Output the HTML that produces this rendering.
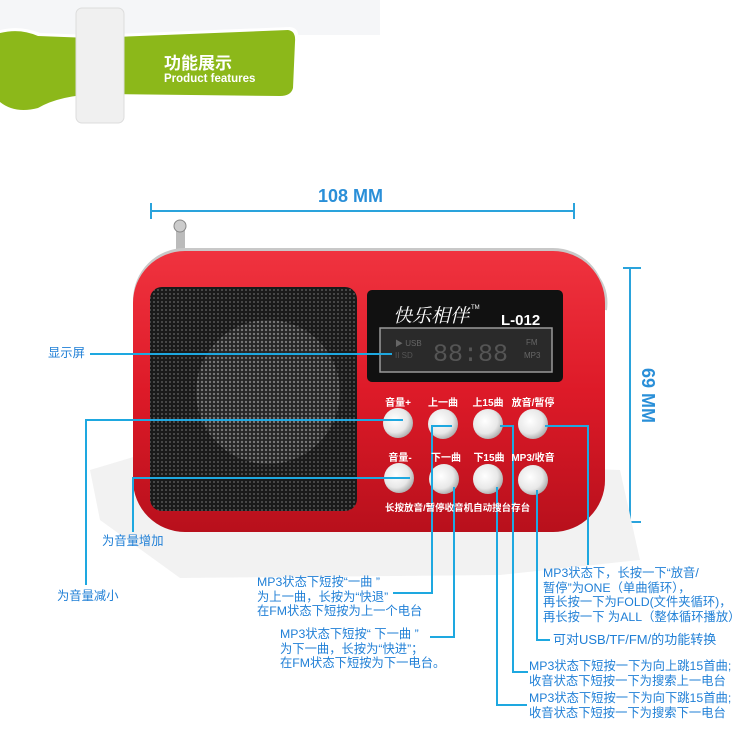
<!DOCTYPE html>
<html><head><meta charset="utf-8"><style>
body{margin:0;width:750px;height:733px;background:#fff;position:relative;overflow:hidden;font-family:"Liberation Sans","Noto Sans CJK SC",sans-serif}
.a{position:absolute;white-space:nowrap}
.t{color:#1f7fd6;font-size:12.3px;line-height:14.5px}
.bl{position:absolute;color:#fff;font-size:10px;font-weight:bold;white-space:nowrap;transform:translateX(-50%)}
</style></head><body>
<svg class="a" style="left:0;top:0" width="750" height="733">
<defs>
<radialGradient id="btn" cx="40%" cy="40%" r="70%"><stop offset="0" stop-color="#fff"/><stop offset=".6" stop-color="#e8e8e8"/><stop offset="1" stop-color="#9a9a9a"/></radialGradient>
<linearGradient id="red" x1="0" y1="0" x2="0" y2="1"><stop offset="0" stop-color="#f0333f"/><stop offset=".5" stop-color="#dd1a28"/><stop offset="1" stop-color="#b8101c"/></linearGradient>
<pattern id="dots" width="4" height="4" patternUnits="userSpaceOnUse"><rect width="4" height="4" fill="#1a1a1a"/><circle cx="2" cy="2" r="1" fill="#555"/></pattern>
<pattern id="dots2" width="4" height="4" patternUnits="userSpaceOnUse"><rect width="4" height="4" fill="#2a2a2a"/><circle cx="2" cy="2" r="1.2" fill="#888"/></pattern>
</defs>
<rect x="0" y="0" width="380" height="35" fill="#f5f6f8"/>
<path d="M0 30 Q20 25 40 33 L90 35 L290 27 Q300 28 298 40 L296 90 Q294 100 280 99 L100 97 Q60 98 40 112 Q15 118 0 105 Z" fill="#fff"/>
<path d="M0 33 Q20 28 38 36 L90 38 L288 30 Q296 31 295 42 L293 88 Q291 96 280 96 L100 94 Q60 95 38 108 Q15 114 0 102 Z" fill="#8cb81a"/>
<rect x="76" y="8" width="48" height="115" rx="6" fill="#f0f0f0" stroke="#ddd"/>
<g stroke="#2aa3dc" stroke-width="2" fill="none">
<line x1="150" y1="211" x2="575" y2="211"/><line x1="151" y1="203" x2="151" y2="219"/><line x1="574" y1="203" x2="574" y2="219"/>
<line x1="630" y1="268" x2="630" y2="522"/><line x1="623" y1="268" x2="641" y2="268"/><line x1="623" y1="522" x2="641" y2="522"/>
</g>
<path d="M90 470 L140 455 L620 470 L640 560 L500 575 L180 578 L100 520 Z" fill="#f2f2f2"/>
<rect x="176" y="228" width="9" height="30" fill="#bbb"/><circle cx="180" cy="226" r="6" fill="#ccc" stroke="#888"/>
<path d="M560 255 Q610 270 605 310" stroke="#ccc" stroke-width="4" fill="none"/>
<rect x="133" y="248" width="472" height="284" rx="52" fill="#c8c8c8"/>
<rect x="133" y="251" width="472" height="281" rx="52" fill="url(#red)"/>
<rect x="150" y="287" width="207" height="224" rx="12" fill="url(#dots)"/>
<circle cx="268" cy="392" r="72" fill="url(#dots2)" opacity=".75"/>
<rect x="367" y="290" width="196" height="92" rx="5" fill="#111"/>
<rect x="380" y="328" width="172" height="44" fill="#2a2a2a" stroke="#999" stroke-width="1.5"/>
<text x="393" y="322" fill="#fff" font-size="19" font-family="Noto Serif CJK SC,serif" font-style="italic">快乐相伴</text>
<text x="471" y="309" fill="#fff" font-size="6">TM</text>
<text x="501" y="325" fill="#fff" font-size="15" font-weight="bold">L-012</text>
<text x="395" y="346" fill="#666" font-size="8">▶ USB</text><text x="395" y="358" fill="#555" font-size="8">II  SD</text>
<text x="433" y="361" fill="#555" font-size="25" font-family="Liberation Mono">88:88</text>
<text x="526" y="345" fill="#666" font-size="8">FM</text><text x="524" y="358" fill="#666" font-size="8">MP3</text>
<g fill="url(#btn)">
<circle cx="398" cy="423" r="15"/><circle cx="443" cy="424" r="15"/><circle cx="488" cy="424" r="15"/><circle cx="533" cy="424" r="15"/>
<circle cx="399" cy="478" r="15"/><circle cx="444" cy="479" r="15"/><circle cx="488" cy="479" r="15"/><circle cx="533" cy="480" r="15"/>
</g>
<g stroke="#1ea8e0" stroke-width="2" fill="none">
<polyline points="90,354 392,354"/>
<polyline points="403,420 86,420 86,585"/>
<polyline points="410,478 133,478 133,532"/>
<polyline points="452,426 432,426 432,593 393,593"/>
<polyline points="454,487 454,637 430,637"/>
<polyline points="500,426 513,426 513,672 528,672"/>
<polyline points="497,487 497,705 527,705"/>
<polyline points="545,426 588,426 588,565"/>
<polyline points="537,490 537,640 550,640"/>
</g>
</svg>
<div class="a" style="left:164px;top:49px;color:#fff;font-size:17px;font-weight:bold">功能展示</div>
<div class="a" style="left:164px;top:73px;color:#fff;font-size:11.5px;font-weight:bold">Product features</div>
<div class="a" style="left:318px;top:186px;color:#2a8fd8;font-size:18px;font-weight:bold">108 MM</div>
<div class="a" style="left:620px;top:385px;color:#2a8fd8;font-size:18px;font-weight:bold;transform:rotate(90deg)">69 MM</div>
<div class="bl" style="left:398px;top:394px">音量+</div><div class="bl" style="left:443px;top:394px">上一曲</div><div class="bl" style="left:488px;top:394px">上15曲</div><div class="bl" style="left:533px;top:394px">放音/暂停</div>
<div class="bl" style="left:400px;top:449px">音量-</div><div class="bl" style="left:446px;top:449px">下一曲</div><div class="bl" style="left:489px;top:449px">下15曲</div><div class="bl" style="left:533px;top:449px">MP3/收音</div>
<div class="a" style="left:385px;top:500px;color:#fff;font-size:9.5px;font-weight:bold">长按放音/暂停收音机自动搜台存台</div>
<div class="a t" style="left:48px;top:346px">显示屏</div>
<div class="a t" style="left:102px;top:534px">为音量增加</div>
<div class="a t" style="left:57px;top:589px">为音量减小</div>
<div class="a t" style="left:257px;top:575px">MP3状态下短按“一曲 ”<br>为上一曲，长按为“快退”<br>在FM状态下短按为上一个电台</div>
<div class="a t" style="left:280px;top:627px">MP3状态下短按“ 下一曲 ”<br>为下一曲，长按为“快进”；<br>在FM状态下短按为下一电台。</div>
<div class="a t" style="left:543px;top:566px">MP3状态下，长按一下“放音/<br>暂停”为ONE（单曲循环），<br>再长按一下为FOLD(文件夹循环)，<br>再长按一下 为ALL（整体循环播放）</div>
<div class="a t" style="left:553px;top:633px;font-size:13px">可对USB/TF/FM/的功能转换</div>
<div class="a t" style="left:529px;top:659px">MP3状态下短按一下为向上跳15首曲;<br>收音状态下短按一下为搜索上一电台</div>
<div class="a t" style="left:529px;top:691px">MP3状态下短按一下为向下跳15首曲;<br>收音状态下短按一下为搜索下一电台</div>
</body></html>
